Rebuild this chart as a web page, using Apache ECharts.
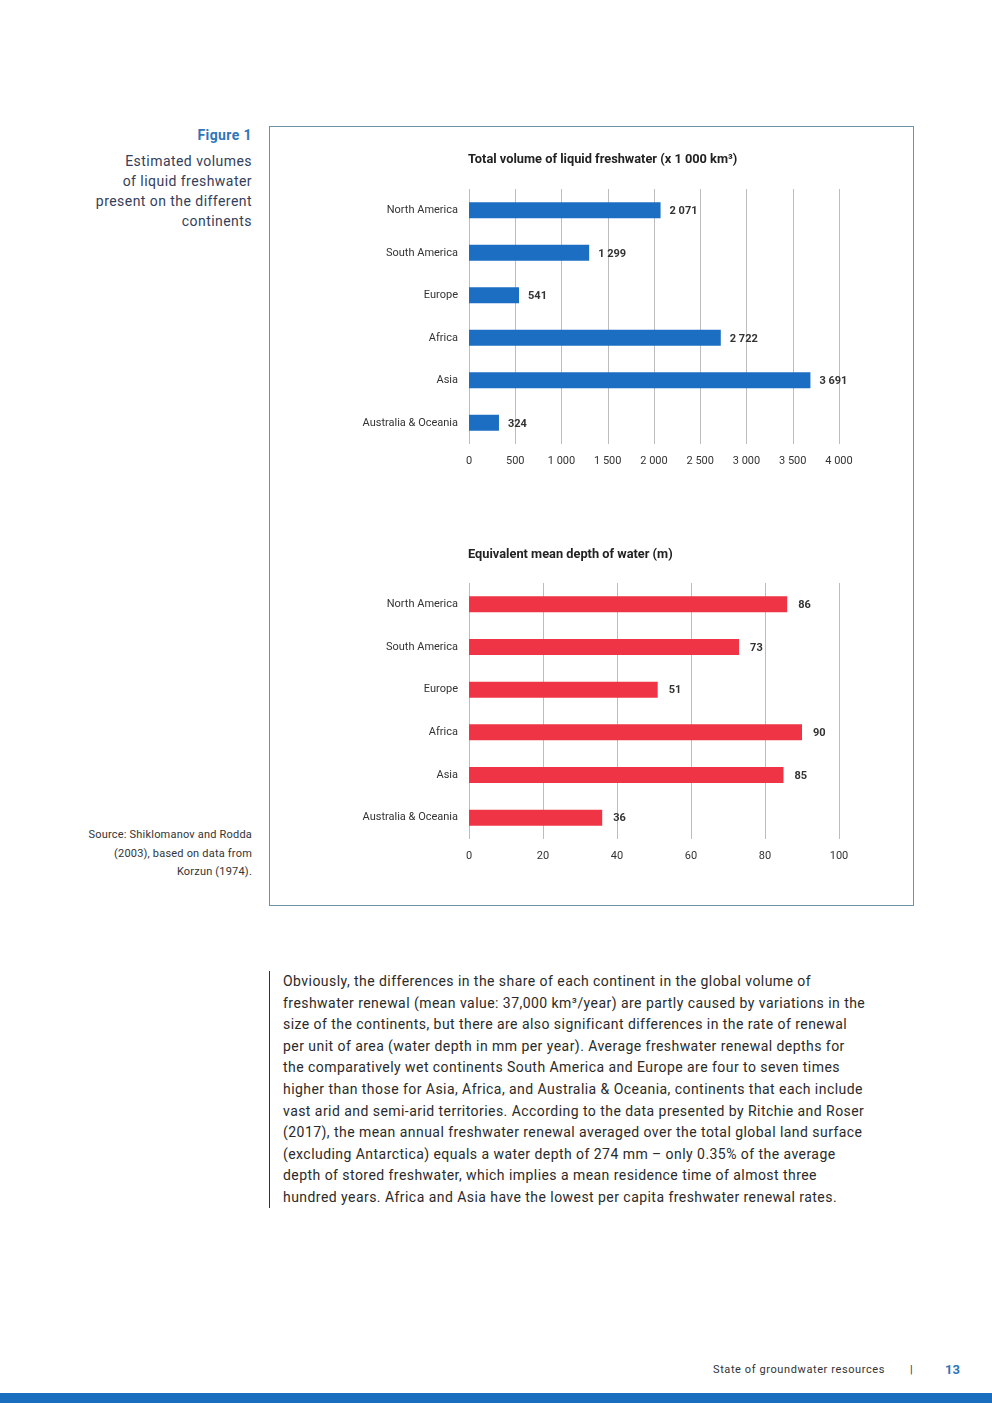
<!DOCTYPE html>
<html><head><meta charset="utf-8">
<script src="https://cdn.jsdelivr.net/npm/echarts@6/dist/echarts.min.js"></script>
<style>
html,body{margin:0;padding:0;background:#fff;}
body{width:992px;height:1403px;position:relative;overflow:hidden;font-family:Roboto,"Noto Sans",sans-serif;}
.abs{position:absolute;}
#fig{left:100px;top:127px;width:152px;text-align:right;color:#2f75b9;font-weight:bold;font-size:14px;letter-spacing:0.4px;}
#cap{left:40px;top:151px;width:212px;text-align:right;color:#34405a;font-size:14px;line-height:20px;letter-spacing:0.45px;}
#src{left:40px;top:826px;width:212px;text-align:right;color:#333;font-size:11px;line-height:18.5px;letter-spacing:0.2px;}
#frame{left:269px;top:126px;width:643px;height:778px;border:1px solid #6c93a3;}
#chart{left:270px;top:127px;width:643px;height:778px;}
#para{left:269px;top:971px;height:237px;border-left:1px solid #333;padding-left:13px;color:#2a2a2a;font-size:14px;line-height:21.6px;letter-spacing:0.45px;white-space:nowrap;}
#foot{left:713px;top:1363px;font-size:11px;color:#333;letter-spacing:0.6px;}
#bar2{left:910px;top:1363px;font-size:11px;color:#333;}
#pg{left:945px;top:1362px;font-size:13px;color:#2f75b9;font-weight:bold;}
#band{left:0;top:1393px;width:992px;height:10px;background:#1a6ebf;}
</style></head>
<body>
<div class="abs" id="fig">Figure 1</div>
<div class="abs" id="cap">Estimated volumes<br>of liquid freshwater<br>present on the different<br>continents</div>
<div class="abs" id="src">Source: Shiklomanov and Rodda<br>(2003), based on data from<br>Korzun (1974).</div>
<div class="abs" id="frame"></div>
<div class="abs" id="chart"></div>
<div class="abs" id="para">Obviously, the differences in the share of each continent in the global volume of<br>freshwater renewal (mean value: 37,000 km³/year) are partly caused by variations in the<br>size of the continents, but there are also significant differences in the rate of renewal<br>per unit of area (water depth in mm per year). Average freshwater renewal depths for<br>the comparatively wet continents South America and Europe are four to seven times<br>higher than those for Asia, Africa, and Australia &amp; Oceania, continents that each include<br>vast arid and semi-arid territories. According to the data presented by Ritchie and Roser<br>(2017), the mean annual freshwater renewal averaged over the total global land surface<br>(excluding Antarctica) equals a water depth of 274 mm – only 0.35% of the average<br>depth of stored freshwater, which implies a mean residence time of almost three<br>hundred years. Africa and Asia have the lowest per capita freshwater renewal rates.</div>
<div class="abs" id="foot">State of groundwater resources</div>
<div class="abs" id="bar2">|</div>
<div class="abs" id="pg">13</div>
<div class="abs" id="band"></div>
<script>
const categories = ["North America","South America","Europe","Africa","Asia","Australia & Oceania"];
const volumeValues = [2071, 1299, 541, 2722, 3691, 324];
const depthValues = [86, 73, 51, 90, 85, 36];
const title1 = "Total volume of liquid freshwater (x 1 000 km³)";
const title2 = "Equivalent mean depth of water (m)";

function fmt(v){ return String(v).replace(/\B(?=(\d{3})+(?!\d))/g, " "); }

const chart = echarts.init(document.getElementById('chart'), null, {renderer:'canvas'});
const catAxis = (gi) => ({
  type:'category', gridIndex:gi, data:categories, inverse:true,
  axisLine:{show:false}, axisTick:{show:false},
  axisLabel:{color:'#333', fontSize:11, margin:11, fontFamily:'Roboto'}
});
const valAxis = (gi, max, interval) => ({
  type:'value', gridIndex:gi, min:0, max:max, interval:interval,
  axisLine:{show:false}, axisTick:{show:false},
  splitLine:{lineStyle:{color:'#bdbdbd', width:1}},
  axisLabel:{color:'#333', fontSize:11, margin:12, fontFamily:'Roboto', formatter:fmt}
});
const lbl = (d) => ({show:true, position:'right', distance:d, offset:[0,1], color:'#333', fontWeight:'bold', fontSize:11, fontFamily:'Roboto', formatter:p=>fmt(p.value)});
const tStyle = {fontSize:12.8, fontWeight:'bold', color:'#222', fontFamily:'Roboto'};
chart.setOption({
  animation:false,
  title:[
    {text:title1, left:193, top:21, textStyle:tStyle},
    {text:title2, left:193, top:416, textStyle:tStyle}
  ],
  grid:[
    {left:199, width:370, top:62, height:255},
    {left:199, width:370, top:456, height:256}
  ],
  xAxis:[valAxis(0,4000,500), valAxis(1,100,20)],
  yAxis:[catAxis(0), catAxis(1)],
  series:[
    {type:'bar', xAxisIndex:0, yAxisIndex:0, data:volumeValues, barWidth:16, itemStyle:{color:'#1b6ec2'}, label:lbl(9)},
    {type:'bar', xAxisIndex:1, yAxisIndex:1, data:depthValues, barWidth:16, itemStyle:{color:'#ef3545'}, label:lbl(11)}
  ]
});
</script>
</body></html>
